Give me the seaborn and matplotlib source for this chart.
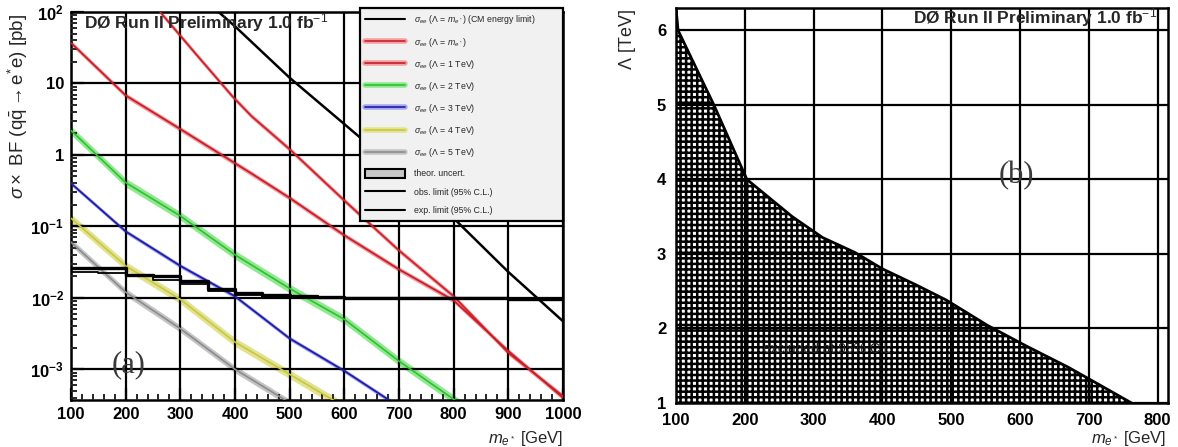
import numpy as np
import pandas as pd
import matplotlib
matplotlib.use("Agg")
import matplotlib.pyplot as plt
import seaborn as sns
from matplotlib.lines import Line2D
from matplotlib.patches import Patch
from matplotlib.ticker import FixedLocator, FixedFormatter, LogLocator, NullFormatter, MultipleLocator

# ---------------- data: panel (a) ----------------
mass_cm = [370, 400, 500, 600, 700, 800, 900, 1000]
sigma_cm = [100, 63, 12, 2.7, 0.6, 0.13, 0.023, 0.0047]

mass_lm = [263, 330, 396, 430, 500, 600, 700, 800, 900, 1000]
sigma_lm = [100, 25, 6.5, 3.5, 1.2, 0.23, 0.046, 0.0105, 1.7e-3, 4.2e-4]

mass_l1 = [100, 200, 300, 430, 500, 600, 700, 800, 900, 1000]
sigma_l1 = [37, 6.8, 2.3, 0.55, 0.25, 0.075, 0.025, 0.0092, 1.8e-3, 4.0e-4]

mass_l2 = [100, 200, 300, 400, 500, 600, 700, 800, 820]
sigma_l2 = [2.2, 0.41, 0.14, 0.04, 0.0135, 5e-3, 1.3e-3, 3.8e-4, 3.0e-4]

mass_l3 = [100, 200, 300, 400, 500, 600, 700]
sigma_l3 = [0.4, 0.085, 0.028, 0.0105, 2.7e-3, 9.5e-4, 3.0e-4]

mass_l4 = [100, 200, 300, 400, 500, 600]
sigma_l4 = [0.13, 0.028, 0.0095, 2.4e-3, 8.5e-4, 3.0e-4]

mass_l5 = [100, 200, 300, 400, 500]
sigma_l5 = [0.06, 0.012, 3.7e-3, 1.0e-3, 3.4e-4]

mass_lim = [100, 150, 200, 250, 300, 350, 400, 450, 500, 550, 600, 650, 700, 750, 800, 850, 900, 950, 1000]
obs_lim = [0.026, 0.026, 0.021, 0.020, 0.017, 0.0135, 0.0115, 0.011, 0.0105, 0.0102, 0.0100,
           0.0100, 0.0099, 0.0099, 0.0098, 0.0098, 0.0097, 0.0097, 0.0097]
exp_lim = [0.023, 0.022, 0.020, 0.018, 0.0155, 0.0125, 0.0108, 0.0104, 0.0100, 0.0099, 0.0099,
           0.0098, 0.0098, 0.0097, 0.0097, 0.0096, 0.0096, 0.0095, 0.0095]

xticks_a = [100, 200, 300, 400, 500, 600, 700, 800, 900, 1000]
yticks_a = [1e-3, 1e-2, 1e-1, 1, 10, 100]
ylabels_a = [r'$\mathbf{10^{-3}}$', r'$\mathbf{10^{-2}}$', r'$\mathbf{10^{-1}}$', '1', '10', r'$\mathbf{10^{2}}$']

legend_labels = [
    r'$\sigma_{ee}$ ($\Lambda$ = $m_{e^*}$) (CM energy limit)',
    r'$\sigma_{ee}$ ($\Lambda$ = $m_{e^*}$)',
    r'$\sigma_{ee}$ ($\Lambda$ = 1 TeV)',
    r'$\sigma_{ee}$ ($\Lambda$ = 2 TeV)',
    r'$\sigma_{ee}$ ($\Lambda$ = 3 TeV)',
    r'$\sigma_{ee}$ ($\Lambda$ = 4 TeV)',
    r'$\sigma_{ee}$ ($\Lambda$ = 5 TeV)',
    'theor. uncert.',
    'obs. limit (95% C.L.)',
    'exp. limit (95% C.L.)',
]

# ---------------- data: panel (b) ----------------
lam_mass = [100, 103, 155, 203, 269, 313, 360, 400, 450, 493, 553, 610, 670, 720, 762]
lam_limit = [6.3, 6.0, 5.0, 4.0, 3.5, 3.22, 3.02, 2.8, 2.58, 2.38, 2.04, 1.76, 1.48, 1.22, 1.0]
xticks_b = [100, 200, 300, 400, 500, 600, 700, 800]
yticks_b = [1, 2, 3, 4, 5, 6]

# ---------------- style ----------------
sns.set_theme(style="white")
plt.rcParams['font.family'] = ['Liberation Sans', 'DejaVu Sans']
plt.rcParams['mathtext.fontset'] = 'custom'
plt.rcParams['mathtext.rm'] = 'Liberation Sans'
plt.rcParams['mathtext.it'] = 'Liberation Sans:italic'
plt.rcParams['mathtext.bf'] = 'Liberation Sans:bold'
plt.rcParams['hatch.linewidth'] = 1.8

fig = plt.figure(figsize=(11.78, 4.47), dpi=100)
fig.patch.set_facecolor('white')
axL = fig.add_axes([71 / 1178, 1 - 400 / 447, 492 / 1178, 388 / 447])
axR = fig.add_axes([676 / 1178, 1 - 403 / 447, 492 / 1178, 395 / 447])

# ---------------- panel (a) ----------------
theory = [
    (mass_lm, sigma_lm, '#d0202a', '#f2a0a4', 1.3, 0.035),
    (mass_l1, sigma_l1, '#c81e28', '#f0a0a4', 1.3, 0.035),
    (mass_l2, sigma_l2, '#30c030', '#90e890', 1.2, 0.06),
    (mass_l3, sigma_l3, '#1c1caa', '#a8a8ec', 1.3, 0.03),
    (mass_l4, sigma_l4, '#c8c840', '#e2e290', 1.2, 0.06),
    (mass_l5, sigma_l5, '#8c8c8c', '#c4c4c4', 1.2, 0.05),
]
for m, s, c, bc, lw, w in theory:
    s = np.array(s, dtype=float)
    axL.fill_between(m, s * 10 ** (-w), s * 10 ** w, color=bc, lw=0, zorder=2)
    df = pd.DataFrame({'m': m, 's': s})
    sns.lineplot(data=df, x='m', y='s', ax=axL, color=c, lw=lw, zorder=3, legend=False)

df_cm = pd.DataFrame({'m': mass_cm, 's': sigma_cm})
sns.lineplot(data=df_cm, x='m', y='s', ax=axL, color='black', lw=1.8, zorder=3, legend=False)

axL.step(mass_lim, exp_lim, where='post', color='black', lw=1.3, zorder=4)
axL.step(mass_lim, obs_lim, where='post', color='black', lw=2.4, zorder=4)

axL.set_yscale('log')
axL.set_xlim(100, 1000)
axL.set_ylim(10 ** (-3.43), 100)
axL.xaxis.set_major_locator(FixedLocator(xticks_a))
axL.xaxis.set_minor_locator(MultipleLocator(20))
axL.yaxis.set_major_locator(FixedLocator(yticks_a))
axL.yaxis.set_major_formatter(FixedFormatter(ylabels_a))
axL.yaxis.set_minor_locator(LogLocator(base=10, subs=np.arange(2, 10)))
axL.yaxis.set_minor_formatter(NullFormatter())
axL.set_xticklabels([str(v) for v in xticks_a])
axL.grid(True, which='major', color='black', lw=1.6, zorder=5)
axL.set_axisbelow(False)
axL.tick_params(axis='both', which='major', direction='in', length=9, width=1.6,
                labelsize=12, colors='black', pad=5, left=True, bottom=True)
axL.tick_params(axis='both', which='minor', direction='in', length=4.5, width=1.4,
                left=True, bottom=True)
for t in axL.get_xticklabels() + axL.get_yticklabels():
    t.set_fontweight('bold')
for sp in axL.spines.values():
    sp.set_color('black')
    sp.set_linewidth(1.8)
axL.set_xlabel('')
axL.set_ylabel('')

axL.text(0.026, 0.972, r'DØ Run II Preliminary 1.0 fb$^{-1}$', transform=axL.transAxes,
         fontsize=12.5, fontweight='bold', ha='left', va='center', zorder=7)
axL.text(205, 1.15e-3, '(a)', family='Liberation Serif', fontsize=22, ha='center',
         va='center', color='#3a3a3a', zorder=7)
fig.text(563 / 1178, 1 - 438 / 447, r'$m_{e^*}$ [GeV]', fontsize=12, ha='right', va='center')
fig.text(18 / 1178, 1 - 14 / 447,
         r'$\sigma\times$ BF ($\mathrm{q\bar{q}}\rightarrow\mathrm{e^{*}e}$) [pb]',
         fontsize=13.5, rotation=90, ha='center', va='top')

handles = [
    Line2D([], [], color='black', lw=1.5),
    (Line2D([], [], color='#f2a0a4', lw=4), Line2D([], [], color='#d0202a', lw=1.2)),
    (Line2D([], [], color='#f0a0a4', lw=4), Line2D([], [], color='#c81e28', lw=1.2)),
    (Line2D([], [], color='#90e890', lw=4), Line2D([], [], color='#30c030', lw=1.2)),
    (Line2D([], [], color='#a8a8ec', lw=4), Line2D([], [], color='#1c1caa', lw=1.2)),
    (Line2D([], [], color='#e2e290', lw=4), Line2D([], [], color='#c8c840', lw=1.2)),
    (Line2D([], [], color='#c4c4c4', lw=4), Line2D([], [], color='#8c8c8c', lw=1.2)),
    Patch(facecolor='#c8c8c8', edgecolor='black', lw=1.5),
    Line2D([], [], color='black', lw=1.5),
    Line2D([], [], color='black', lw=1.5),
]
leg = axL.legend(handles, legend_labels, loc='upper left', mode='expand',
                 bbox_to_anchor=(0.587, 0.49, 0.413, 0.52), fontsize=6.3,
                 handlelength=4.6, handleheight=1.2, handletextpad=1.0,
                 labelspacing=1.05, borderpad=0.6, borderaxespad=0.0,
                 fancybox=False, framealpha=1.0)
leg.get_frame().set_edgecolor('black')
leg.get_frame().set_linewidth(1.6)
leg.get_frame().set_facecolor('#f1f1f1')
leg.set_zorder(10)

# ---------------- panel (b) ----------------
axR.fill_between(lam_mass, 1, lam_limit, facecolor='white', edgecolor='black',
                 hatch='+++', lw=0, zorder=2)
df_b = pd.DataFrame({'m': lam_mass, 'lam': lam_limit})
sns.lineplot(data=df_b, x='m', y='lam', ax=axR, color='black', lw=2.0, zorder=3, legend=False)
axR.set_xlim(100, 815)
axR.set_ylim(1, 6.3)
axR.xaxis.set_major_locator(FixedLocator(xticks_b))
axR.yaxis.set_major_locator(FixedLocator(yticks_b))
axR.set_xticklabels([str(v) for v in xticks_b])
axR.set_yticklabels([str(v) for v in yticks_b])
axR.grid(True, which='major', color='black', lw=1.6, zorder=5)
axR.set_axisbelow(False)
axR.tick_params(axis='both', which='major', direction='in', length=0, labelsize=12,
                colors='black', pad=7)
for t in axR.get_xticklabels() + axR.get_yticklabels():
    t.set_fontweight('bold')
for sp in axR.spines.values():
    sp.set_color('black')
    sp.set_linewidth(1.8)
axR.set_xlabel('')
axR.set_ylabel('')
axR.text(800, 6.02, r'DØ Run II Preliminary 1.0 fb$^{-1}$', fontsize=12.5, fontweight='bold',
         ha='right', va='bottom', zorder=7)
axR.text(595, 4.05, '(b)', family='Liberation Serif', fontsize=22, ha='center', va='center',
         color='#3a3a3a', zorder=7)
axR.text(322, 1.72, 'excluded at 95% C.L.', fontsize=10, color='#202020', ha='center',
         va='center', zorder=6)
fig.text(1166 / 1178, 1 - 438 / 447, r'$m_{e^*}$ [GeV]', fontsize=12, ha='right', va='center')
fig.text(628 / 1178, 1 - 9 / 447, r'$\Lambda$ [TeV]', fontsize=13, rotation=90,
         ha='center', va='top')

fig.savefig('out.png', dpi=100, facecolor='white')
